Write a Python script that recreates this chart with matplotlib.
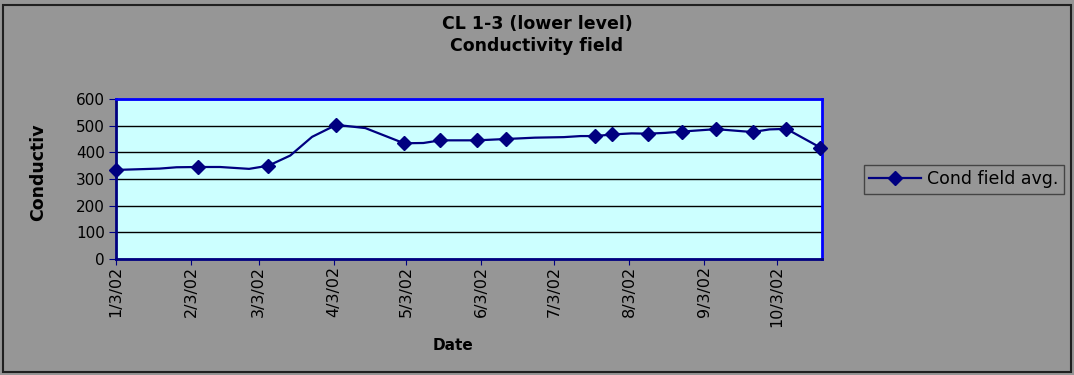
import matplotlib
matplotlib.use("Agg")
import matplotlib.pyplot as plt
import matplotlib.dates as mdates
from matplotlib.lines import Line2D
from matplotlib.patches import Rectangle
from matplotlib.ticker import FuncFormatter
import numpy as np
import pandas as pd

# ---- data ----
sample_dates = ["2002-01-03", "2002-01-21", "2002-01-28", "2002-02-06", "2002-02-15",
                "2002-02-27", "2002-03-07", "2002-03-16", "2002-03-25", "2002-04-04",
                "2002-04-16", "2002-05-02", "2002-05-10", "2002-05-17", "2002-05-25",
                "2002-06-01", "2002-06-06", "2002-06-13", "2002-06-18", "2002-06-25",
                "2002-07-07", "2002-07-14", "2002-07-20", "2002-07-27", "2002-08-04",
                "2002-08-11", "2002-08-18", "2002-08-25", "2002-09-08", "2002-09-23",
                "2002-09-30", "2002-10-07", "2002-10-21"]
cond_field_avg = [334, 339, 344, 345, 345,
                  338, 350, 388, 458, 503,
                  491, 434, 435, 445, 445,
                  445, 447, 450, 452, 455,
                  457, 461, 461, 467, 471,
                  470, 473, 478, 487, 476,
                  486, 488, 418]
marked = [1, 0, 0, 1, 0,
          0, 1, 0, 0, 1,
          0, 1, 0, 1, 0,
          1, 0, 1, 0, 0,
          0, 0, 1, 1, 0,
          1, 0, 1, 1, 1,
          0, 1, 1]
tick_dates = ["2002-01-03", "2002-02-03", "2002-03-03", "2002-04-03", "2002-05-03",
              "2002-06-03", "2002-07-03", "2002-08-03", "2002-09-03", "2002-10-03"]
y_ticks = [0, 100, 200, 300, 400, 500, 600]
title_lines = ["CL 1-3 (lower level)", "Conductivity field"]
series_label = "Cond field avg."

# ---- figure ----
plt.rcParams['font.family'] = ['DejaVu Sans']
W, H = 1074, 375
fig = plt.figure(figsize=(W / 100, H / 100), dpi=100, facecolor="#969696")
fig.patches.append(Rectangle((3 / W, 3 / H), (W - 6) / W, (H - 8) / H,
                             transform=fig.transFigure, fill=False,
                             edgecolor="#202020", linewidth=1.5))

L, R, T, B = 116, 822, 99, 259
ax = fig.add_axes([L / W, 1 - B / H, (R - L) / W, (B - T) / H])
ax.set_facecolor("#CCFFFF")

dates = pd.to_datetime(sample_dates)
vals = np.array(cond_field_avg, dtype=float)
mask = np.array(marked, dtype=bool)
navy = "#000080"

ax.plot(dates, vals, color=navy, linewidth=1.6, zorder=3, clip_on=False)
ax.plot(dates[mask], vals[mask], linestyle="none", marker="D", markersize=7.5,
        color=navy, zorder=4, clip_on=False)

start = pd.Timestamp("2002-01-03")
ax.set_xlim(start, start + pd.Timedelta(days=291.7))
ax.set_ylim(0, 600)
ax.set_yticks(y_ticks)
ax.yaxis.grid(True, color="black", linewidth=1.0)
ax.set_axisbelow(True)

ticks = pd.to_datetime(tick_dates)
ax.set_xticks(mdates.date2num(ticks))
ax.xaxis.set_major_formatter(FuncFormatter(
    lambda x, p: (lambda d: f"{d.month}/{d.day}/{d:%y}")(mdates.num2date(x))))
ax.tick_params(axis="x", labelrotation=90, labelsize=11.5, direction="out",
               length=4, color=navy, pad=1)
ax.tick_params(axis="y", labelsize=11, direction="out", length=5, color=navy, pad=3)

for s in ["left", "bottom"]:
    ax.spines[s].set_color(navy)
    ax.spines[s].set_linewidth(2)
for s in ["top", "right"]:
    ax.spines[s].set_color("#0000FF")
    ax.spines[s].set_linewidth(2)

fig.text(537 / W, 1 - 24 / H, title_lines[0], ha="center", va="center",
         fontsize=12.5, fontweight="bold")
fig.text(537 / W, 1 - 46 / H, title_lines[1], ha="center", va="center",
         fontsize=12.5, fontweight="bold")
fig.text(38 / W, 1 - 172 / H, "Conductiv", rotation=90, ha="center", va="center",
         fontsize=12.5, fontweight="bold")
fig.text(453 / W, 1 - 346 / H, "Date", ha="center", va="center",
         fontsize=11, fontweight="bold")

handle = Line2D([], [], color=navy, linewidth=1.6, marker="D", markersize=7)
leg = fig.legend([handle], [series_label], loc="center",
                 bbox_to_anchor=(964 / W, 1 - 179.5 / H), fontsize=12.5,
                 frameon=True, fancybox=False, handlelength=3.0,
                 handletextpad=0.35, borderpad=0.3, borderaxespad=0)
leg.get_frame().set_facecolor("none")
leg.get_frame().set_edgecolor("#303030")
leg.get_frame().set_linewidth(1.0)

fig.savefig("out.png", dpi=100, facecolor=fig.get_facecolor())
